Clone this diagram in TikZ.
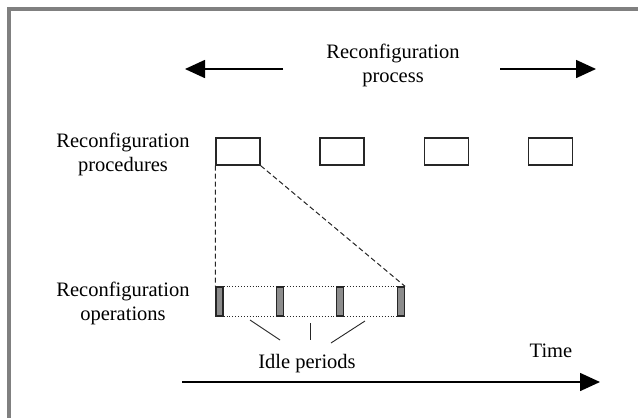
\documentclass[tikz,border=0pt]{standalone}
\usepackage{fontspec}
\setmainfont{Liberation Serif}
\usetikzlibrary{arrows.meta}
\begin{document}
\begin{tikzpicture}[x=1pt,y=-1pt,
  lbl/.style={font=\fontsize{20.5}{24}\selectfont, align=center, inner sep=0pt, text=black},
  proc/.style={draw=black!85, line width=1.4pt, minimum width=44pt, minimum height=27pt, inner sep=0pt},
  oper/.style={draw=black!85, fill=black!45, line width=1.2pt, minimum width=7pt, minimum height=29pt, inner sep=0pt},
  bigarrow/.style={line width=1.6pt, draw=black, -{Triangle[length=20pt,width=18pt]}},
  thin/.style={line width=0.9pt, draw=black!85}]
\useasboundingbox (0,0) rectangle (638,418);
\fill[white] (0,0) rectangle (638,418);
% frame
\draw[line width=4.5pt, draw=black!50] (9,418) -- (9,9) -- (638,9);
% process arrows
\node[lbl] (proc) at (393,65) {Reconfiguration\\process};
\coordinate (la) at (283,69);
\coordinate (lt) at (185,69);
\coordinate (ra) at (500,69);
\coordinate (rt) at (596,69);
\draw[bigarrow] (la) -- (lt);
\draw[bigarrow] (ra) -- (rt);
% procedures
\node[lbl] (proclbl) at (123,154) {Reconfiguration\\procedures};
\node[proc] (p1) at (238,151.5) {};
\node[proc] (p2) at (342,151.5) {};
\node[proc] (p3) at (446.5,151.5) {};
\node[proc] (p4) at (550.5,151.5) {};
% operations
\node[lbl] (oplbl) at (123,303) {Reconfiguration\\operations};
\node[oper] (o1) at (219.5,301.5) {};
\node[oper] (o2) at (280,301.5) {};
\node[oper] (o3) at (340,301.5) {};
\node[oper] (o4) at (401,301.5) {};
\draw[thin, dotted, line width=1pt] (o1.north east) -- (o2.north west) (o2.north east) -- (o3.north west) (o3.north east) -- (o4.north west);
\draw[thin, dotted, line width=1pt] (o1.south east) -- (o2.south west) (o2.south east) -- (o3.south west) (o3.south east) -- (o4.south west);
\draw[thin, dash pattern=on 5pt off 3pt, line width=1pt] (p1.south west) -- (o1.north west);
\draw[thin, dash pattern=on 5pt off 3pt, line width=1pt] (p1.south east) -- (o4.north east);
% idle periods
\node[lbl] (idle) at (307,364) {Idle periods};
\coordinate (i1a) at (250,320);
\coordinate (i1b) at (280,340);
\coordinate (i2a) at (310,323);
\coordinate (i2b) at (310,340);
\coordinate (i3a) at (365,321);
\coordinate (i3b) at (331,343);
\draw[thin] (i1a) -- (i1b);
\draw[thin] (i2a) -- (i2b);
\draw[thin] (i3a) -- (i3b);
% time axis
\node[lbl] (time) at (551,351) {Time};
\coordinate (ts) at (182,382);
\coordinate (te) at (600,382);
\draw[bigarrow] (ts) -- (te);
\end{tikzpicture}
\end{document}
